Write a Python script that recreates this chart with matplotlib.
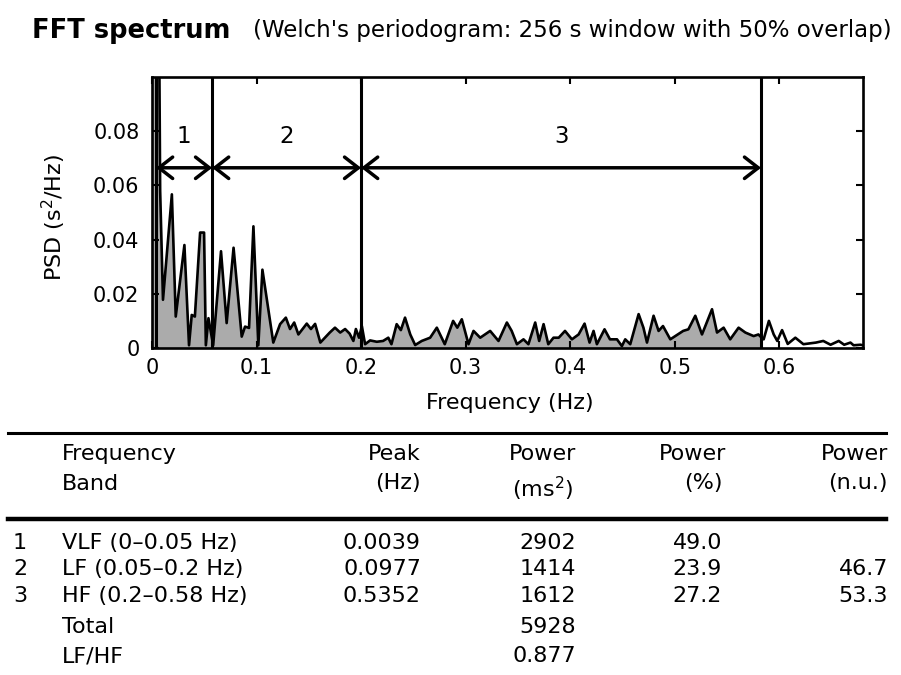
import numpy as np
import matplotlib
matplotlib.use('Agg')
import matplotlib.pyplot as plt

plt.rcParams['font.family'] = ['DejaVu Sans']
plt.rcParams['mathtext.default'] = 'regular'

# spectrum vertices (Hz, s^2/Hz)
freq = [0.0, 0.0039, 0.0078, 0.0105, 0.0190, 0.0227, 0.0310, 0.0354, 0.0380, 0.0410,
        0.0460, 0.0498, 0.0515, 0.0540, 0.0585, 0.0660, 0.0714, 0.0780, 0.0858, 0.0890,
        0.0928, 0.0970, 0.1017, 0.1056, 0.1160, 0.1225, 0.1280, 0.1320, 0.1360, 0.1400,
        0.1480, 0.1520, 0.1560, 0.1610, 0.1700, 0.1750, 0.1800, 0.1847, 0.1890, 0.1926,
        0.1950, 0.1980, 0.2007, 0.2038, 0.2086, 0.2150, 0.2210, 0.2260, 0.2290, 0.2340,
        0.2380, 0.2420, 0.2470, 0.2517, 0.2580, 0.2660, 0.2724, 0.2800, 0.2880, 0.2920,
        0.2963, 0.3027, 0.3075, 0.3139, 0.3234, 0.3314, 0.3394, 0.3440, 0.3490, 0.3553,
        0.3600, 0.3665, 0.3703, 0.3745, 0.3790, 0.3840, 0.3890, 0.3950, 0.4016, 0.4080,
        0.4137, 0.4185, 0.4223, 0.4255, 0.4328, 0.4380, 0.4447, 0.4494, 0.4526, 0.4574,
        0.4654, 0.4700, 0.4734, 0.4797, 0.4845, 0.4887, 0.4957, 0.5080, 0.5130, 0.5196,
        0.5260, 0.5356, 0.5404, 0.5467, 0.5530, 0.5610, 0.5675, 0.5754, 0.5800, 0.5825,
        0.5850, 0.5900, 0.5946, 0.5980, 0.6026, 0.6080, 0.6153, 0.6230, 0.6350, 0.6420,
        0.6490, 0.6568, 0.6620, 0.6680, 0.6710, 0.6775, 0.6800]
psd = [0.3, 0.3, 0.058, 0.0178, 0.0567, 0.0116, 0.0380, 0.0010, 0.0122, 0.0116,
       0.0426, 0.0426, 0.0010, 0.0110, 0.0010, 0.0357, 0.0092, 0.0370, 0.0042, 0.0079,
       0.0074, 0.0449, 0.0010, 0.0289, 0.0020, 0.0088, 0.0112, 0.0070, 0.0094, 0.0050,
       0.0090, 0.0070, 0.0089, 0.0020, 0.0057, 0.0075, 0.0057, 0.0070, 0.0053, 0.0026,
       0.0070, 0.0038, 0.0081, 0.0014, 0.0028, 0.0023, 0.0026, 0.0038, 0.0014, 0.0088,
       0.0066, 0.0112, 0.0050, 0.0011, 0.0026, 0.0038, 0.0075, 0.0014, 0.0100, 0.0075,
       0.0106, 0.0014, 0.0063, 0.0038, 0.0063, 0.0026, 0.0094, 0.0063, 0.0014, 0.0032,
       0.0014, 0.0094, 0.0026, 0.0088, 0.0014, 0.0038, 0.0038, 0.0063, 0.0032, 0.0050,
       0.0090, 0.0020, 0.0063, 0.0014, 0.0069, 0.0032, 0.0032, 0.0007, 0.0032, 0.0014,
       0.0125, 0.0075, 0.0020, 0.0119, 0.0063, 0.0081, 0.0032, 0.0063, 0.0069, 0.0119,
       0.0050, 0.0143, 0.0057, 0.0075, 0.0032, 0.0075, 0.0057, 0.0044, 0.0050, 0.0040,
       0.0032, 0.0100, 0.0050, 0.0026, 0.0066, 0.0015, 0.0038, 0.0014, 0.0020, 0.0026,
       0.0012, 0.0026, 0.0012, 0.0020, 0.0010, 0.0012, 0.0010]

band_edges = [0.0039, 0.0575, 0.2, 0.5825]
band_labels = ['1', '2', '3']

xticks = [0, 0.1, 0.2, 0.3, 0.4, 0.5, 0.6]
xtick_labels = ['0', '0.1', '0.2', '0.3', '0.4', '0.5', '0.6']
yticks = [0, 0.02, 0.04, 0.06, 0.08]
ytick_labels = ['0', '0.02', '0.04', '0.06', '0.08']

# table
band_ids = ['1', '2', '3', '', '']
band_names = ['VLF (0\u20130.05 Hz)', 'LF (0.05\u20130.2 Hz)', 'HF (0.2\u20130.58 Hz)', 'Total', 'LF/HF']
peak_hz = ['0.0039', '0.0977', '0.5352', '', '']
power_ms2 = ['2902', '1414', '1612', '5928', '0.877']
power_pct = ['49.0', '23.9', '27.2', '', '']
power_nu = ['', '46.7', '53.3', '', '']

W, H = 901, 675
fig = plt.figure(figsize=(W / 100, H / 100), dpi=100)

# ---- spectrum panel
ax = fig.add_axes([152 / W, 1 - 348 / H, 711 / W, 271 / H])
f = np.array(freq)
p = np.array(psd)
inband = f <= band_edges[-1]
ax.fill_between(f[inband], p[inband], 0, color='#ababab', lw=0)
ax.plot(f, p, color='k', lw=1.9)
for e in band_edges:
    ax.axvline(e, color='k', lw=2.2)

y_arrow = 0.0665
for i, lab in enumerate(band_labels):
    a, b = band_edges[i], band_edges[i + 1]
    ax.annotate('', xy=(a, y_arrow), xytext=(b, y_arrow),
                arrowprops=dict(arrowstyle='<->, head_length=0.45, head_width=0.35',
                                lw=2.5, color='k', shrinkA=0, shrinkB=0,
                                mutation_scale=22))
    ax.text((a + b) / 2, 0.078, lab, ha='center', va='center', fontsize=16.5)

ax.set_xlim(0, 0.68)
ax.set_ylim(0, 0.1)
ax.set_xticks(xticks)
ax.set_xticklabels(xtick_labels)
ax.set_yticks(yticks)
ax.set_yticklabels(ytick_labels)
ax.tick_params(direction='in', top=True, right=True, length=5, width=1.5,
               labelsize=15)
ax.tick_params(axis='x', pad=7)
ax.tick_params(axis='y', pad=9)
for s in ax.spines.values():
    s.set_linewidth(1.9)
ax.set_xlabel('Frequency (Hz)', fontsize=16)
ax.xaxis.set_label_coords(0.503, -0.165)
ax.set_ylabel('PSD (s$^2$/Hz)', fontsize=16)
ax.yaxis.set_label_coords(-0.118, 0.48)

fig.text(32 / W, 1 - 31 / H, 'FFT spectrum', fontsize=18.5, fontweight='bold', va='center')
fig.text(253 / W, 1 - 31 / H, "(Welch's periodogram: 256 s window with 50% overlap)",
         fontsize=16.5, va='center')

# ---- table, laid out in pixel coordinates
tab = fig.add_axes([0, 0, 1, 1])
tab.set_xlim(0, W)
tab.set_ylim(H, 0)
tab.axis('off')
tab.plot([8, 886], [433, 433], color='k', lw=2.2)
tab.plot([8, 886], [519, 519], color='k', lw=3.2)

fs = 16
x_name, x_num = 62, 20
x_peak, x_ms2, x_pct, x_nu = 421, 576, 726, 888
tab.text(x_name, 460, 'Frequency', fontsize=fs, ha='left', va='baseline')
tab.text(x_name, 490, 'Band', fontsize=fs, ha='left', va='baseline')
tab.text(x_peak, 460, 'Peak', fontsize=fs, ha='right', va='baseline')
tab.text(x_peak, 489, '(Hz)', fontsize=fs, ha='right', va='baseline')
tab.text(x_ms2, 460, 'Power', fontsize=fs, ha='right', va='baseline')
tab.text(x_ms2 - 3, 497, '(ms$^2$)', fontsize=fs, ha='right', va='baseline')
tab.text(x_pct, 460, 'Power', fontsize=fs, ha='right', va='baseline')
tab.text(x_pct - 3, 489, '(%)', fontsize=fs, ha='right', va='baseline')
tab.text(x_nu, 460, 'Power', fontsize=fs, ha='right', va='baseline')
tab.text(x_nu, 489, '(n.u.)', fontsize=fs, ha='right', va='baseline')

row_y = [549, 575, 602, 633, 662]
for i, yb in enumerate(row_y):
    tab.text(x_num, yb, band_ids[i], fontsize=fs, ha='center', va='baseline')
    tab.text(x_name, yb, band_names[i], fontsize=fs, ha='left', va='baseline')
    tab.text(x_peak, yb, peak_hz[i], fontsize=fs, ha='right', va='baseline')
    tab.text(x_ms2, yb, power_ms2[i], fontsize=fs, ha='right', va='baseline')
    tab.text(x_pct - 4, yb, power_pct[i], fontsize=fs, ha='right', va='baseline')
    tab.text(x_nu, yb, power_nu[i], fontsize=fs, ha='right', va='baseline')

fig.savefig('out.png', dpi=100)
